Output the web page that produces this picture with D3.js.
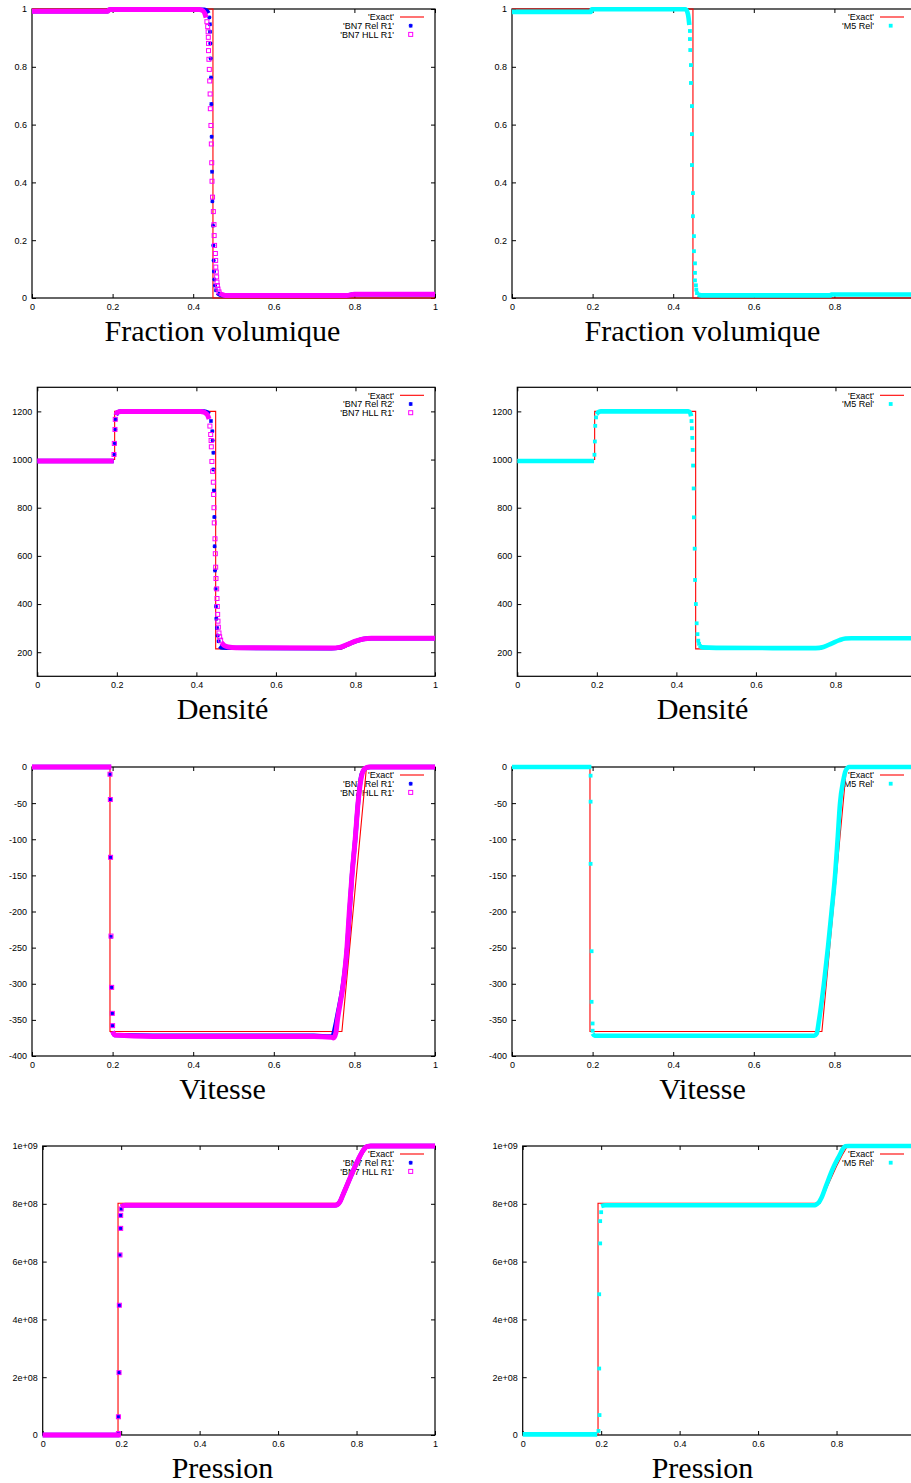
<!DOCTYPE html>
<html>
<head>
<meta charset="utf-8">
<script src="https://cdn.jsdelivr.net/npm/d3@7"></script>
<style>
  body { margin: 0; background: #fff; }
  svg { display: block; }
  .tick text { font-family: "Liberation Sans", Arial, sans-serif; font-size: 9px; fill: #000; }
  .key { font-family: "Liberation Sans", Arial, sans-serif; font-size: 9px; fill: #000; }
  .title { font-family: "Liberation Serif", "DejaVu Serif", serif; font-size: 30px; fill: #000; }
</style>
</head>
<body>
<div id="chart"></div>
<script>
// ---- tick values / labels ----
const xTicks = [0, 0.2, 0.4, 0.6, 0.8, 1];
const xTickLabels = ["0", "0.2", "0.4", "0.6", "0.8", "1"];
const alphaTicks = [0, 0.2, 0.4, 0.6, 0.8, 1];
const alphaTickLabels = ["0", "0.2", "0.4", "0.6", "0.8", "1"];
const rhoTicks = [200, 400, 600, 800, 1000, 1200];
const rhoTickLabels = ["200", "400", "600", "800", "1000", "1200"];
const uTicks = [0, -50, -100, -150, -200, -250, -300, -350, -400];
const uTickLabels = ["0", "-50", "-100", "-150", "-200", "-250", "-300", "-350", "-400"];
const pTicks = [0, 2e8, 4e8, 6e8, 8e8, 1e9];
const pTickLabels = ["0", "2e+08", "4e+08", "6e+08", "8e+08", "1e+09"];

const titles = ["Fraction volumique", "Densité", "Vitesse", "Pression"];
const relNames = ["'BN7 Rel R1'", "'BN7 Rel R2'", "'BN7 Rel R1'", "'BN7 Rel R1'"];
const hllName = "'BN7 HLL R1'";
const m5Name = "'M5 Rel'";
const exactName = "'Exact'";

// ---- data: [x, value]; "Band" = markers so dense they merge, null = gap ----
// volume fraction
const alphaExact = [[0, 1], [0.449, 1], [0.449, 0], [1, 0]];
const alphaRelBand = [[0, 0.992], [0.188, 0.992], [0.192, 0.998], [0.428, 0.998], [0.434, 0.994], [0.438, 0.985], null,
  [0.46, 0.018], [0.466, 0.012], [0.48, 0.009], [0.78, 0.009], [0.8, 0.013], [1, 0.013]];
const alphaRelPts = [[0.44, 0.971], [0.4417, 0.947], [0.4417, 0.921], [0.4425, 0.881], [0.4433, 0.829], [0.4442, 0.763],
  [0.445, 0.671], [0.4458, 0.558], [0.4467, 0.437], [0.4475, 0.335], [0.4491, 0.251], [0.45, 0.182], [0.4508, 0.13],
  [0.4516, 0.092], [0.4524, 0.064], [0.454, 0.043], [0.4566, 0.027]];
const alphaHllBand = [[0, 0.992], [0.188, 0.992], [0.192, 0.998], [0.415, 0.998], [0.424, 0.994], [0.429, 0.984], [0.432, 0.97], null,
  [0.466, 0.016], [0.472, 0.012], [0.48, 0.009], [0.78, 0.009], [0.8, 0.013], [1, 0.013]];
const alphaHllPts = [[0.434, 0.956], [0.436, 0.939], [0.437, 0.921], [0.4375, 0.902], [0.438, 0.881], [0.438, 0.856],
  [0.439, 0.826], [0.44, 0.791], [0.441, 0.751], [0.442, 0.706], [0.4425, 0.655], [0.444, 0.597], [0.445, 0.533],
  [0.446, 0.468], [0.4467, 0.404], [0.448, 0.349], [0.45, 0.299], [0.4516, 0.254], [0.452, 0.216], [0.453, 0.182],
  [0.455, 0.154], [0.4557, 0.13], [0.456, 0.107], [0.4573, 0.09], [0.4582, 0.073], [0.459, 0.055], [0.46, 0.043],
  [0.4615, 0.031], [0.464, 0.021]];
const alphaM5Band = [[0, 0.99], [0.196, 0.99], [0.198, 0.999], [0.43, 0.999], [0.435, 0.99], [0.438, 0.97], [0.44, 0.945], null,
  [0.461, 0.012], [0.47, 0.009], [0.79, 0.009], [0.792, 0.012], [1, 0.012]];
const alphaM5Pts = [[0.4415, 0.924], [0.4415, 0.896], [0.4423, 0.858], [0.444, 0.806], [0.444, 0.744], [0.4465, 0.664],
  [0.4465, 0.567], [0.4465, 0.46], [0.449, 0.363], [0.449, 0.283], [0.4515, 0.214], [0.4515, 0.162], [0.454, 0.12],
  [0.454, 0.087], [0.454, 0.061], [0.4564, 0.044], [0.4573, 0.029], [0.459, 0.017]];

// density
const rhoExact = [[0, 1000], [0.1945, 1000], [0.1945, 1200], [0.4485, 1200], [0.4485, 214], [0.765, 214], [0.78, 225],
  [0.8, 242], [0.82, 254], [0.83, 258], [1, 258]];
const rhoRelBand = [[0, 994], [0.192, 994], null, [0.198, 1185], [0.202, 1196], [0.21, 1200], [0.42, 1200], [0.428, 1195],
  [0.432, 1188], null, [0.458, 225], [0.465, 219], [0.5, 218], [0.74, 216], [0.76, 219], [0.78, 232], [0.8, 245],
  [0.82, 255], [0.84, 258], [1, 258]];
const rhoRelPts = [[0.1936, 1021], [0.1953, 1067], [0.196, 1125], [0.197, 1167], [0.4367, 1160], [0.44, 1118],
  [0.4409, 1079], [0.4426, 1028], [0.4426, 959], [0.4443, 872], [0.4451, 761], [0.4459, 640], [0.4468, 539],
  [0.4485, 463], [0.4493, 391], [0.4501, 339], [0.4518, 301], [0.4535, 269], [0.456, 246]];
const rhoHllBand = [[0, 994], [0.192, 994], null, [0.198, 1185], [0.2, 1195], [0.21, 1200], [0.41, 1200], [0.42, 1196],
  [0.428, 1185], [0.432, 1168], null, [0.463, 240], [0.47, 228], [0.48, 222], [0.5, 219], [0.74, 217], [0.76, 220],
  [0.78, 232], [0.8, 246], [0.82, 255], [0.84, 258], [1, 258]];
const rhoHllPts = [[0.1928, 1021], [0.1936, 1067], [0.1953, 1125], [0.196, 1167], [0.434, 1139], [0.436, 1104],
  [0.437, 1079], [0.4376, 1053], [0.439, 992], [0.4409, 951], [0.4426, 906], [0.4434, 855], [0.4443, 800],
  [0.445, 737], [0.4468, 671], [0.4476, 609], [0.4485, 553], [0.4493, 506], [0.451, 463], [0.4518, 423],
  [0.4526, 390], [0.4535, 357], [0.4543, 329], [0.4552, 304], [0.4568, 280], [0.4585, 264], [0.461, 250]];
const rhoM5Band = [[0, 994], [0.193, 994], null, [0.199, 1188], [0.205, 1198], [0.21, 1200], [0.43, 1200], [0.435, 1192],
  [0.437, 1180], null, [0.458, 228], [0.465, 220], [0.5, 218], [0.75, 217], [0.77, 222], [0.79, 236], [0.81, 250],
  [0.825, 257], [0.84, 258], [1, 258]];
const rhoM5Pts = [[0.194, 1020], [0.195, 1075], [0.196, 1140], [0.198, 1175], [0.438, 1160], [0.439, 1130],
  [0.44, 1090], [0.441, 1040], [0.442, 975], [0.4435, 880], [0.444, 760], [0.446, 630], [0.447, 500],
  [0.449, 400], [0.451, 320], [0.453, 275], [0.455, 248], [0.457, 235]];

// velocity
const uExact = [[0, 0], [0.1935, 0], [0.1935, -366], [0.769, -366], [0.83, 0], [1, 0]];
const uRelBand = [[0, 0], [0.196, 0], null, [0.2, -366], [0.205, -371], [0.3, -372], [0.7, -372], [0.74, -373],
  [0.746, -372], [0.752, -360], [0.758, -343], [0.772, -300], [0.782, -250], [0.788, -200], [0.794, -150],
  [0.802, -100], [0.809, -50], [0.818, -10], [0.83, -1], [0.84, 0], [1, 0]];
const uRelPts = [[0.1935, -10], [0.1944, -45], [0.195, -125], [0.196, -235], [0.1977, -305], [0.1993, -341], [0.2, -358]];
const uHllBand = [[0, 0], [0.197, 0], null, [0.2, -366], [0.205, -371], [0.3, -373], [0.7, -373], [0.742, -374],
  [0.748, -375], [0.754, -368], [0.758, -350], [0.7725, -300], [0.7816, -250], [0.7874, -200], [0.794, -150],
  [0.802, -100], [0.809, -50], [0.818, -12], [0.826, -2], [0.836, 0], [1, 0]];
const uHllPts = [[0.1935, -10], [0.1944, -45], [0.195, -125], [0.196, -234], [0.1977, -305], [0.1993, -341], [0.2, -358]];
const uM5Band = [[0, 0], [0.197, 0], null, [0.2, -369], [0.205, -372], [0.75, -372], [0.756, -369], [0.762, -350],
  [0.774, -300], [0.784, -250], [0.793, -200], [0.8017, -150], [0.808, -100], [0.814, -50], [0.8216, -20],
  [0.828, -5], [0.8365, 0], [1, 0]];
const uM5Pts = [[0.195, -12], [0.195, -48], [0.195, -134], [0.1975, -255], [0.1975, -325], [0.2, -355], [0.2, -365]];

// pressure
const pExact = [[0, 0], [0.192, 0], [0.192, 8.02e8], [0.758, 8.02e8], [0.78, 8.7e8], [0.8, 9.3e8], [0.815, 9.7e8],
  [0.828, 1e9], [1, 1e9]];
const pRelBand = [[0, 0], [0.195, 0], null, [0.2, 7.9e8], [0.21, 7.95e8], [0.745, 7.95e8], [0.752, 7.98e8],
  [0.758, 8.08e8], [0.765, 8.3e8], [0.775, 8.62e8], [0.79, 9.1e8], [0.805, 9.55e8], [0.817, 9.85e8],
  [0.826, 9.98e8], [0.836, 1e9], [1, 1e9]];
const pRelPts = [[0.193, 0.05e8], [0.193, 0.63e8], [0.1946, 2.16e8], [0.1954, 4.49e8], [0.197, 6.23e8],
  [0.1988, 7.15e8], [0.1988, 7.6e8], [0.2, 7.82e8]];
const pHllBand = [[0, 0], [0.199, 0], null, [0.2, 7.9e8], [0.21, 7.95e8], [0.745, 7.95e8], [0.752, 7.98e8],
  [0.758, 8.08e8], [0.765, 8.3e8], [0.775, 8.62e8], [0.79, 9.1e8], [0.805, 9.55e8], [0.817, 9.85e8],
  [0.826, 9.98e8], [0.836, 1e9], [1, 1e9]];
const pHllPts = [[0.193, 0.05e8], [0.193, 0.63e8], [0.1946, 2.16e8], [0.1954, 4.49e8], [0.197, 6.23e8],
  [0.1988, 7.15e8], [0.1988, 7.6e8], [0.2, 7.82e8]];
const pM5Band = [[0, 2e6], [0.19, 2e6], null, [0.2, 7.92e8], [0.21, 7.95e8], [0.745, 7.95e8], [0.7485, 7.98e8],
  [0.755, 8.05e8], [0.761, 8.19e8], [0.774, 8.65e8], [0.791, 9.23e8], [0.808, 9.69e8], [0.816, 9.9e8],
  [0.822, 9.99e8], [0.83, 1e9], [1, 1e9]];
const pM5Pts = [[0.1932, 0.14e8], [0.1958, 0.69e8], [0.195, 2.3e8], [0.195, 4.87e8], [0.1975, 6.63e8],
  [0.1975, 7.4e8], [0.2, 7.71e8]];

// ---- layout (gnuplot-like panels, right column shifted and cropped) ----
const width = 911, height = 1483;
const rowTop = [9, 387.3, 767, 1146];
const rowLeft = [32, 37.3, 32, 42.7];
const plotRight = 435, plotH = 289, colShift = 480;
const titleX = 222.5;

const rowsCfg = [
  { domain: [0, 1], ticks: alphaTicks, labels: alphaTickLabels, exact: alphaExact,
    left: [[alphaRelBand, alphaRelPts, "rel"], [alphaHllBand, alphaHllPts, "hll"]], right: [[alphaM5Band, alphaM5Pts, "m5"]] },
  { domain: [100, 1300], ticks: rhoTicks, labels: rhoTickLabels, exact: rhoExact,
    left: [[rhoRelBand, rhoRelPts, "rel"], [rhoHllBand, rhoHllPts, "hll"]], right: [[rhoM5Band, rhoM5Pts, "m5"]] },
  { domain: [-400, 0], ticks: uTicks, labels: uTickLabels, exact: uExact,
    left: [[uRelBand, uRelPts, "rel"], [uHllBand, uHllPts, "hll"]], right: [[uM5Band, uM5Pts, "m5"]] },
  { domain: [0, 1e9], ticks: pTicks, labels: pTickLabels, exact: pExact,
    left: [[pRelBand, pRelPts, "rel"], [pHllBand, pHllPts, "hll"]], right: [[pM5Band, pM5Pts, "m5"]] }
];

const colors = { exact: "#ff0000", rel: "#0000ff", hll: "#ff00ff", m5: "#00ffff" };
const bandWidth = { rel: 4.4, hll: 5, m5: 4.6 };

const svg = d3.select("#chart").append("svg").attr("width", width).attr("height", height);
svg.append("rect").attr("width", width).attr("height", height).attr("fill", "#fff");

function marker(sel, kind, px, py) {
  if (kind === "rel") {
    sel.append("path")
      .attr("d", `M${px - 2},${py}H${px + 2}M${px},${py - 2}V${py + 2}M${px - 1.6},${py - 1.6}L${px + 1.6},${py + 1.6}M${px - 1.6},${py + 1.6}L${px + 1.6},${py - 1.6}`)
      .attr("stroke", colors.rel).attr("stroke-width", 1.1).attr("fill", "none");
  } else if (kind === "hll") {
    sel.append("rect").attr("x", px - 2).attr("y", py - 2).attr("width", 4).attr("height", 4)
      .attr("fill", "none").attr("stroke", colors.hll).attr("stroke-width", 1);
  } else {
    sel.append("rect").attr("x", px - 1.9).attr("y", py - 1.9).attr("width", 3.8).attr("height", 3.8)
      .attr("fill", colors.m5);
  }
}

function drawPanel(row, col) {
  const cfg = rowsCfg[row];
  const L = rowLeft[row] + col * colShift, R = plotRight + col * colShift;
  const T = rowTop[row], B = T + plotH;
  const x = d3.scaleLinear().domain([0, 1]).range([L, R]);
  const y = d3.scaleLinear().domain(cfg.domain).range([B, T]);
  const g = svg.append("g");

  // axes, ticks inward and mirrored; right column is cropped at x = 1
  const xLabels = col === 0 ? xTickLabels : xTickLabels.map(s => s === "1" ? "" : s);
  const fix = a => { a.select(".domain").remove(); a.selectAll(".tick line").attr("stroke", "#000"); };
  g.append("g").attr("transform", `translate(0,${B})`)
    .call(d3.axisBottom(x).tickValues(xTicks).tickFormat((d, i) => xLabels[i]).tickSize(-4).tickPadding(5.5)).call(fix);
  g.append("g").attr("transform", `translate(0,${T})`)
    .call(d3.axisTop(x).tickValues(xTicks).tickFormat("").tickSize(-4)).call(fix);
  g.append("g").attr("transform", `translate(${L},0)`)
    .call(d3.axisLeft(y).tickValues(cfg.ticks).tickFormat((d, i) => cfg.labels[i]).tickSize(-4).tickPadding(5)).call(fix);
  g.append("g").attr("transform", `translate(${R},0)`)
    .call(d3.axisRight(y).tickValues(cfg.ticks).tickFormat("").tickSize(-4)).call(fix);

  g.append("rect").attr("x", L).attr("y", T).attr("width", R - L).attr("height", B - T)
    .attr("fill", "none").attr("stroke", "#000").attr("stroke-width", 1.2);

  // key
  const series = col === 0 ? cfg.left : cfg.right;
  const names = col === 0 ? [exactName, relNames[row], hllName] : [exactName, m5Name];
  const kx = 394 + col * colShift;
  names.forEach((n, i) => {
    const ky = T + 8 + i * 8.7;
    g.append("text").attr("class", "key").attr("x", kx).attr("y", ky + 3.2).attr("text-anchor", "end").text(n);
    if (i === 0) {
      g.append("line").attr("x1", kx + 6).attr("x2", kx + 30).attr("y1", ky).attr("y2", ky)
        .attr("stroke", colors.exact).attr("stroke-width", 1.1);
    } else {
      marker(g, series[i - 1][2], kx + 16.7, ky);
    }
  });

  // exact solution
  const line = d3.line().defined(d => d !== null).x(d => x(d[0])).y(d => y(d[1]));
  g.append("path").attr("d", line(cfg.exact)).attr("fill", "none")
    .attr("stroke", colors.exact).attr("stroke-width", 1.1);

  // numerical series
  const bandLine = d3.line().defined(d => d !== null).curve(d3.curveMonotoneX).x(d => x(d[0])).y(d => y(d[1]));
  series.forEach(([band, pts, kind]) => {
    g.append("path").attr("d", bandLine(band)).attr("fill", "none")
      .attr("stroke", colors[kind]).attr("stroke-width", bandWidth[kind])
      .attr("stroke-linejoin", "round");
    const mg = g.append("g");
    pts.forEach(d => marker(mg, kind, x(d[0]), y(d[1])));
  });

  // caption
  g.append("text").attr("class", "title").attr("x", titleX + col * colShift).attr("y", T + 332)
    .attr("text-anchor", "middle").text(titles[row]);
}

for (let r = 0; r < 4; r++) { drawPanel(r, 0); drawPanel(r, 1); }
</script>
</body>
</html>
